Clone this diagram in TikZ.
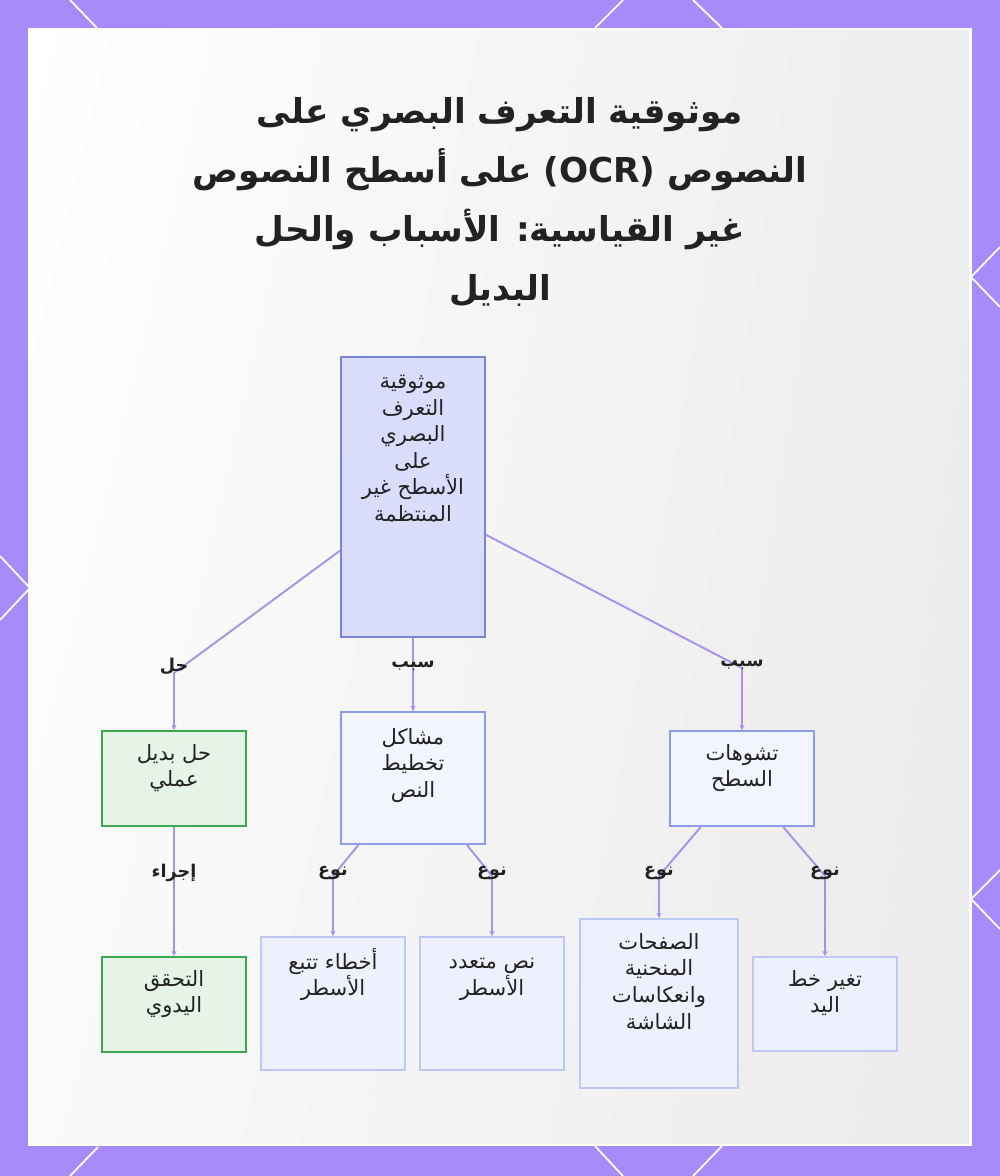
\documentclass[tikz,border=0pt]{standalone}
\usepackage{fontspec}
\usepackage{tikz}
\usetikzlibrary{positioning}
\usetikzlibrary{arrows.meta}
\usetikzlibrary{shadings}

\newfontfamily\arabicfont[Script=Arabic]{DejaVu Sans}
\TeXXeTstate=1
\newcommand{\rtl}[1]{\beginR #1\endR}

\definecolor{framepurple}{HTML}{A78BFA}
\definecolor{edgepurple}{RGB}{170,145,235}
\definecolor{rootfill}{RGB}{217,221,251}
\definecolor{rootline}{RGB}{120,132,218}
\definecolor{midfill}{RGB}{243,245,254}
\definecolor{midline}{RGB}{141,156,232}
\definecolor{leaffill}{RGB}{238,241,253}
\definecolor{leafline}{RGB}{190,200,245}
\definecolor{greenfill}{RGB}{230,244,231}
\definecolor{greenline}{RGB}{62,168,80}
\definecolor{ink}{RGB}{34,34,34}

\begin{document}
\begin{tikzpicture}[x=0.02cm, y=-0.02cm,
    box/.style={rectangle, draw, line width=1.1pt, minimum width=2.88cm, inner sep=0pt},
    rootbox/.style={box, fill=rootfill, draw=rootline, minimum height=5.6cm},
    midbox/.style={box, fill=midfill, draw=midline},
    leafbox/.style={box, fill=leaffill, draw=leafline},
    greenbox/.style={box, fill=greenfill, draw=greenline, minimum height=1.9cm},
    txt/.style={align=center, text=ink, inner sep=0pt, font=\arabicfont\fontsize{12}{15.1}\selectfont},
    lbl/.style={text=ink, inner sep=1pt, font=\arabicfont\bfseries\fontsize{10}{12}\selectfont},
    edge/.style={draw=edgepurple, line width=1.1pt, -{Stealth[length=3pt, width=3pt]}},
    deco/.style={draw=white, line width=1pt}]

    \useasboundingbox (0,0) rectangle (1000,1176);

    % Frame
    \fill[framepurple] (0,0) rectangle (1000,1176);
    \draw[deco] (70,0) -- (97,28);
    \draw[deco] (623,0) -- (595,28);
    \draw[deco] (693,0) -- (722,28);
    \draw[deco] (1000,247) -- (971,277) -- (1000,307);
    \draw[deco] (1000,870) -- (971,899) -- (1000,929);
    \draw[deco] (0,556) -- (30,588) -- (0,620);
    \draw[deco] (595,1146) -- (623,1176);
    \draw[deco] (722,1146) -- (693,1176);
    \draw[deco] (98,1147) -- (70,1176);
    \fill[white] (28,28) rectangle (972,1146);
    \shade[upper left=white, upper right=white!93!black, lower left=white!98!black, lower right=white!92!black]
        (31,31) rectangle (969,1143);

    % Title
    \node[txt, font=\arabicfont\bfseries\fontsize{19.5}{33.5}\selectfont] (title) at (500,202)
        {\rtl{موثوقية التعرف البصري على}\\
         \rtl{النصوص \beginL(OCR)\endL{} على أسطح النصوص}\\
         \rtl{غير القياسية: الأسباب والحل}\\
         \rtl{البديل}};

    % Boxes
    \node[rootbox] (root) at (413,497) {};
    \node[greenbox] (alt) at (174,778.5) {};
    \node[midbox, minimum height=2.64cm] (layout) at (413,778) {};
    \node[midbox, minimum height=1.9cm] (surf) at (742,778.5) {};
    \node[greenbox] (manual) at (174,1004.5) {};
    \node[leafbox, minimum height=2.66cm] (track) at (333,1003.5) {};
    \node[leafbox, minimum height=2.66cm] (multi) at (492,1003.5) {};
    \node[leafbox, minimum width=3.16cm, minimum height=3.38cm] (curved) at (659,1003.5) {};
    \node[leafbox, minimum height=1.88cm] (hand) at (825,1004) {};

    % Box texts
    \node[txt, anchor=north, below=0.38cm of root.north] (rootT)
        {\rtl{موثوقية}\\ \rtl{التعرف}\\ \rtl{البصري}\\ \rtl{على}\\ \rtl{الأسطح غير}\\ \rtl{المنتظمة}};
    \node[txt, anchor=north, below=0.28cm of alt.north] (altT) {\rtl{حل بديل}\\ \rtl{عملي}};
    \node[txt, anchor=north, below=0.34cm of layout.north] (layoutT) {\rtl{مشاكل}\\ \rtl{تخطيط}\\ \rtl{النص}};
    \node[txt, anchor=north, below=0.28cm of surf.north] (surfT) {\rtl{تشوهات}\\ \rtl{السطح}};
    \node[txt, anchor=north, below=0.28cm of manual.north] (manualT) {\rtl{التحقق}\\ \rtl{اليدوي}};
    \node[txt, anchor=north, below=0.24cm of track.north] (trackT) {\rtl{أخطاء تتبع}\\ \rtl{الأسطر}};
    \node[txt, anchor=north, below=0.44cm of multi.north] (multiT) {\rtl{نص متعدد}\\ \rtl{الأسطر}};
    \node[txt, anchor=north, below=0.3cm of curved.north] (curvedT)
        {\rtl{الصفحات}\\ \rtl{المنحنية}\\ \rtl{وانعكاسات}\\ \rtl{الشاشة}};
    \node[txt, anchor=north, below=0.28cm of hand.north] (handT) {\rtl{تغير خط}\\ \rtl{اليد}};

    % Bends
    \coordinate (kAlt) at (174,673);
    \coordinate (kSurf) at (742,668);
    \coordinate (kTrack) at (333,876);
    \coordinate (kMulti) at (492,876);
    \coordinate (kCurved) at (659,876);
    \coordinate (kHand) at (825,876);

    % Causes and solution
    \draw[edge] (root) -- (kAlt) -- (alt);
    \draw[edge] (root) -- (layout);
    \draw[edge] (root) -- (kSurf) -- (surf);
    \node[lbl] (lAlt) at (174,666) {\rtl{حل}};
    \node[lbl] (lLayout) at (413,666) {\rtl{سبب}};
    \node[lbl] (lSurf) at (742,665) {\rtl{سبب}};

    % Kinds
    \draw[edge] (alt) -- (manual);
    \draw[edge] (layout) -- (kTrack) -- (track);
    \draw[edge] (layout) -- (kMulti) -- (multi);
    \draw[edge] (surf) -- (kCurved) -- (curved);
    \draw[edge] (surf) -- (kHand) -- (hand);
    \node[lbl] (lManual) at (174,873) {\rtl{إجراء}};
    \node[lbl] (lTrack) at (333,873) {\rtl{نوع}};
    \node[lbl] (lMulti) at (492,873) {\rtl{نوع}};
    \node[lbl] (lCurved) at (659,873) {\rtl{نوع}};
    \node[lbl] (lHand) at (825,873) {\rtl{نوع}};
\end{tikzpicture}
\end{document}
